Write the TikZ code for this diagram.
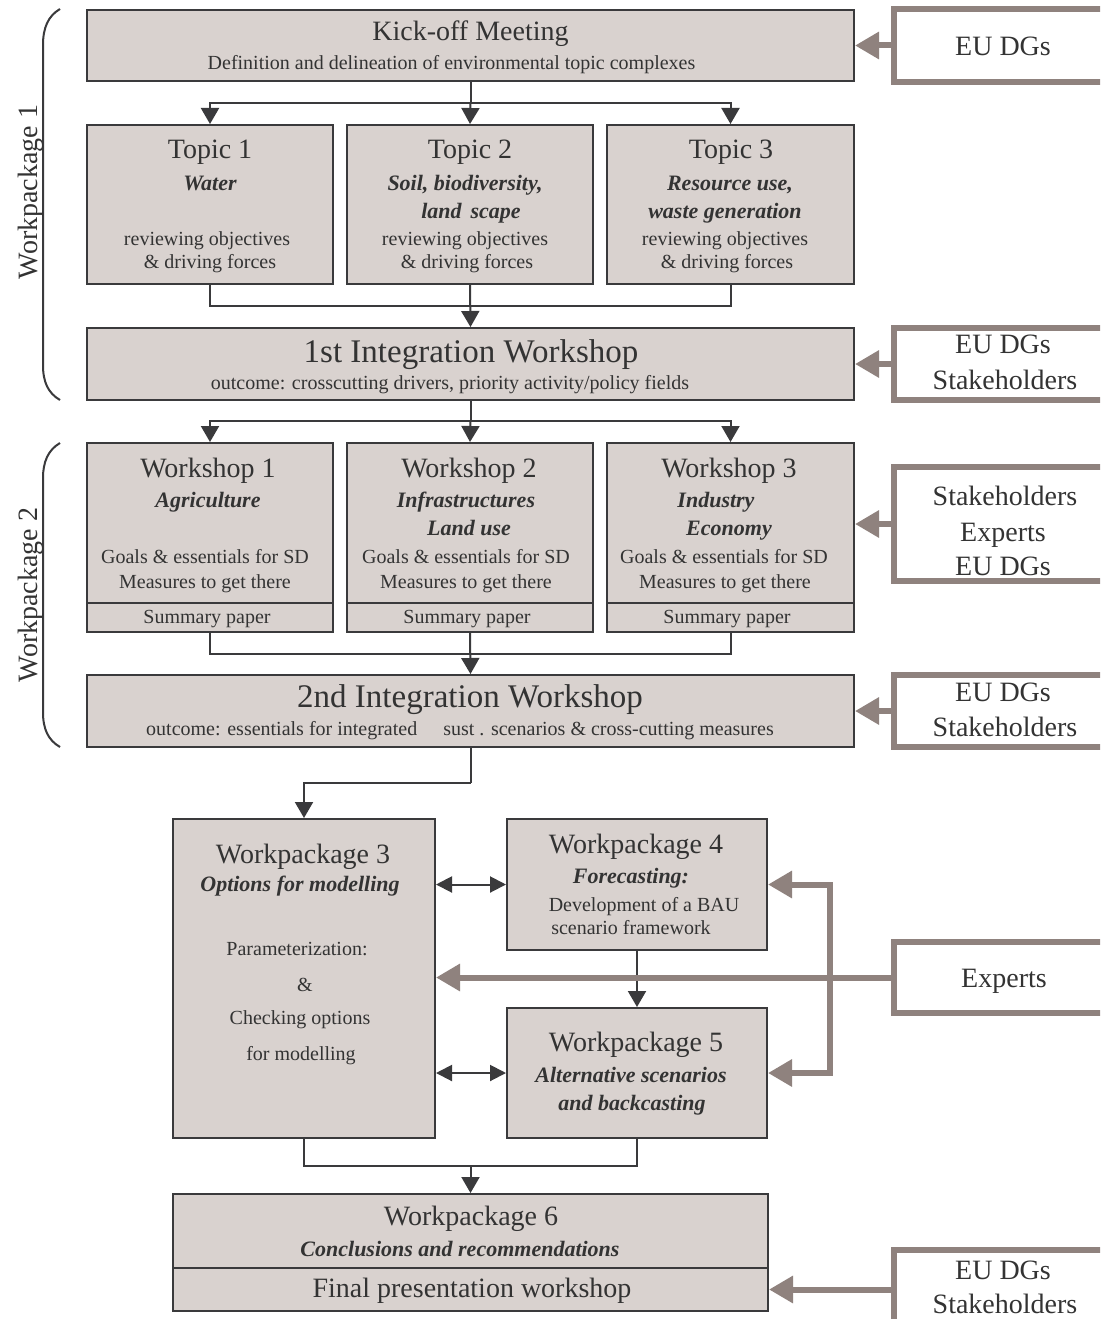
\documentclass[tikz,border=0pt]{standalone}
\usepackage{fontspec}
\setmainfont{Liberation Serif}
\usetikzlibrary{arrows.meta}
\definecolor{boxfill}{HTML}{D9D2CF}
\definecolor{dkline}{HTML}{3A3A3C}
\definecolor{grline}{HTML}{8F827E}
\definecolor{txt}{HTML}{333333}
\begin{document}
\begin{tikzpicture}[x=1pt,y=-1pt,
 box/.style={draw=dkline, line width=2pt, fill=boxfill, inner sep=0pt, rectangle},
 extbox/.style={draw=grline, line width=5.5pt, fill=white, inner sep=0pt, rectangle, minimum width=236pt},
 dk/.style={draw=dkline, line width=2pt},
 dkarr/.style={dk, -{Triangle[length=16pt,width=18pt]}},
 dkdbl/.style={dk, {Triangle[length=16pt,width=16pt]}-{Triangle[length=16pt,width=16pt]}},
 grarr/.style={draw=grline, line width=6pt, -{Triangle[length=24pt,width=26pt]}},
 tx/.style={anchor=base, inner sep=0pt, text=txt},
 fa/.style={tx, font=\fontsize{28}{32}\selectfont},
 fb/.style={tx, font=\fontsize{33}{36}\selectfont},
 fc/.style={tx, font=\fontsize{20}{23}\selectfont},
 fd/.style={tx, font=\fontsize{22}{25}\selectfont\bfseries\itshape},
 brc/.style={draw=dkline, line width=2pt}
]
\useasboundingbox (0,0) rectangle (1100,1319);
\fill[white] (0,0) rectangle (1100,1319);
\clip (0,0) rectangle (1100,1319);

% ---------- boxes ----------
\node[box, minimum width=767pt, minimum height=71pt] (ko) at (470.5,45.5) {};
\node[box, minimum width=246pt, minimum height=159pt] (t1) at (210,204.5) {};
\node[box, minimum width=246pt, minimum height=159pt] (t2) at (470,204.5) {};
\node[box, minimum width=247pt, minimum height=159pt] (t3) at (730.5,204.5) {};
\node[box, minimum width=767pt, minimum height=72pt] (iw1) at (470.5,364) {};

\node[box, minimum width=246pt, minimum height=160pt] (w1) at (210,523) {};
\node[box, minimum width=246pt, minimum height=160pt] (w2) at (470,523) {};
\node[box, minimum width=247pt, minimum height=160pt] (w3) at (730.5,523) {};
\node[box, minimum width=246pt, minimum height=29pt] (s1) at (210,617.5) {};
\node[box, minimum width=246pt, minimum height=29pt] (s2) at (470,617.5) {};
\node[box, minimum width=247pt, minimum height=29pt] (s3) at (730.5,617.5) {};
\node[box, minimum width=767pt, minimum height=72pt] (iw2) at (470.5,711) {};

\node[box, minimum width=262pt, minimum height=319pt] (wp3) at (304,978.5) {};
\node[box, minimum width=260pt, minimum height=131pt] (wp4) at (637,884.5) {};
\node[box, minimum width=260pt, minimum height=130pt] (wp5) at (637,1073) {};
\node[box, minimum width=595pt, minimum height=74pt] (wp6) at (470.5,1231) {};
\node[box, minimum width=595pt, minimum height=43pt] (fin) at (470.5,1289.5) {};

% external boxes (open to the right)
\node[extbox, minimum height=73pt] (r1) at (1012,45.5) {};
\node[extbox, minimum height=72pt] (r2) at (1012,364) {};
\node[extbox, minimum height=114pt] (r3) at (1012,524) {};
\node[extbox, minimum height=72pt] (r4) at (1012,711) {};
\node[extbox, minimum height=71pt] (ex) at (1012,977.5) {};
\node[extbox, minimum height=100pt] (r6) at (1012,1300) {};

% ---------- braces ----------
\draw[brc] (60,9) .. controls (48,16) and (43,28) .. (43,45) -- (43,365) .. controls (43,382) and (48,393) .. (60,400);
\draw[brc] (60,443) .. controls (48,450) and (43,462) .. (43,478) -- (43,712) .. controls (43,729) and (48,740) .. (60,747);
\node[fa, rotate=90] (lab1) at (37,192) {Workpackage 1};
\node[fa, rotate=90] (lab2) at (37,595) {Workpackage 2};

% ---------- dark connectors ----------
\coordinate (j1) at (470.5,103);
\draw[dk] (ko.south) -- (j1);
\draw[dkarr] (j1) -| (t1.north);
\draw[dkarr] (j1) -| (t3.north);
\draw[dkarr] (j1) -- (t2.north);
\draw[dk] (t1.south) -- ++(0,21) -| (t3.south);
\draw[dkarr] (t2.south) -- (iw1.north);

\coordinate (j2) at (470.5,421);
\draw[dk] (iw1.south) -- (j2);
\draw[dkarr] (j2) -| (w1.north);
\draw[dkarr] (j2) -| (w3.north);
\draw[dkarr] (j2) -- (w2.north);
\draw[dk] (s1.south) -- ++(0,21) -| (s3.south);
\draw[dkarr] (s2.south) -- (iw2.north);

\coordinate (j3) at (470.5,783);
\draw[dk] (iw2.south) -- (j3);
\draw[dkarr] (j3) -| (wp3.north);

\draw[dkdbl] (wp4.west -| wp3.east) -- (wp4.west);
\draw[dkdbl] (wp5.west -| wp3.east) -- (wp5.west);
\draw[dkarr] (wp4.south) -- (wp5.north);

\coordinate (j4) at (470.5,1165);
\draw[dk] (wp3.south) -- ++(0,27) -| (wp5.south);
\draw[dkarr] (j4) -- (wp6.north);

% ---------- grey connectors ----------
\draw[grarr] (r1.west) -- (ko.east);
\draw[grarr] (r2.west) -- (iw1.east);
\draw[grarr] (r3.west) -- (r3.west -| w3.east);
\draw[grarr] (r4.west) -- (iw2.east);
\draw[grarr] (ex.west) -- (ex.west -| wp3.east);
\coordinate (br) at (830,977.5);
\draw[grarr] (br) |- (wp4.east);
\draw[grarr] (br) |- (wp5.east);
\draw[grarr] (r6.west |- fin.east) -- (fin.east);

% ---------- texts ----------
\node[fa] (ko1) at (470.5,41) {Kick-off Meeting};
\node[fc] (ko2) at (451.5,70) {Definition and delineation of environmental topic complexes};

\node[fa] (t1a) at (210,158) {Topic 1};
\node[fd] (t1b) at (210,190) {Water};
\node[fc] (t1c) at (207,245) {reviewing objectives};
\node[fc] (t1d) at (210,268) {\& driving forces};

\node[fa] (t2a) at (470,158) {Topic 2};
\node[fd] (t2b) at (465,190) {Soil, biodiversity,};
\node[fd] (t2c) at (471,218) {land\hspace{9pt}scape};
\node[fc] (t2d) at (465,245) {reviewing objectives};
\node[fc] (t2e) at (467,268) {\& driving forces};

\node[fa] (t3a) at (731,158) {Topic 3};
\node[fd] (t3b) at (730,190) {Resource use,};
\node[fd] (t3c) at (725,218) {waste generation};
\node[fc] (t3d) at (725,245) {reviewing objectives};
\node[fc] (t3e) at (727,268) {\& driving forces};

\node[fb] (iw1a) at (471,362) {1st Integration Workshop};
\node[fc] (iw1b) at (450,389) {outcome: crosscutting drivers, priority activity/policy fields};

\node[fa] (w1a) at (208,477) {Workshop 1};
\node[fd] (w1b) at (208,507) {Agriculture};
\node[fc] (w1c) at (205,563) {Goals \& essentials for SD};
\node[fc] (w1d) at (205,588) {Measures to get there};
\node[fc] (s1a) at (207,623) {Summary paper};

\node[fa] (w2a) at (469,477) {Workshop 2};
\node[fd] (w2b) at (466,507) {Infrastructures};
\node[fd] (w2c) at (469,535) {Land use};
\node[fc] (w2d) at (466,563) {Goals \& essentials for SD};
\node[fc] (w2e) at (466,588) {Measures to get there};
\node[fc] (s2a) at (467,623) {Summary paper};

\node[fa] (w3a) at (729,477) {Workshop 3};
\node[fd] (w3b) at (716,507) {Industry};
\node[fd] (w3c) at (729,535) {Economy};
\node[fc] (w3d) at (724,563) {Goals \& essentials for SD};
\node[fc] (w3e) at (725,588) {Measures to get there};
\node[fc] (s3a) at (727,623) {Summary paper};

\node[fb] (iw2a) at (470,707) {2nd Integration Workshop};
\node[fc] (iw2b) at (460,735) {outcome: essentials for integrated\hspace{26pt}sust . scenarios \& cross-cutting measures};

\node[fa] (wp3a) at (303,863) {Workpackage 3};
\node[fd] (wp3b) at (300,891) {Options for modelling};
\node[fc] (wp3c) at (297,955) {Parameterization:};
\node[fc] (wp3d) at (305,991) {\&};
\node[fc] (wp3e) at (300,1024) {Checking options};
\node[fc] (wp3f) at (301,1060) {for modelling};

\node[fa] (wp4a) at (636,853) {Workpackage 4};
\node[fd] (wp4b) at (631,883) {Forecasting:};
\node[fc] (wp4c) at (644,911) {Development of a BAU};
\node[fc] (wp4d) at (631,934) {scenario framework};

\node[fa] (wp5a) at (636,1051) {Workpackage 5};
\node[fd] (wp5b) at (631,1082) {Alternative scenarios};
\node[fd] (wp5c) at (632,1110) {and backcasting};

\node[fa] (wp6a) at (471,1225) {Workpackage 6};
\node[fd] (wp6b) at (460,1256) {Conclusions and recommendations};
\node[fa] (fina) at (472,1297) {Final presentation workshop};

\node[fa] (r1a) at (1003,56) {EU DGs};
\node[fa] (r2a) at (1003,353) {EU DGs};
\node[fa] (r2b) at (1005,389) {Stakeholders};
\node[fa] (r3a) at (1005,505) {Stakeholders};
\node[fa] (r3b) at (1003,541) {Experts};
\node[fa] (r3c) at (1003,575) {EU DGs};
\node[fa] (r4a) at (1003,701) {EU DGs};
\node[fa] (r4b) at (1005,736) {Stakeholders};
\node[fa] (exa) at (1004,987) {Experts};
\node[fa] (r6a) at (1003,1279) {EU DGs};
\node[fa] (r6b) at (1005,1313) {Stakeholders};
\end{tikzpicture}
\end{document}
